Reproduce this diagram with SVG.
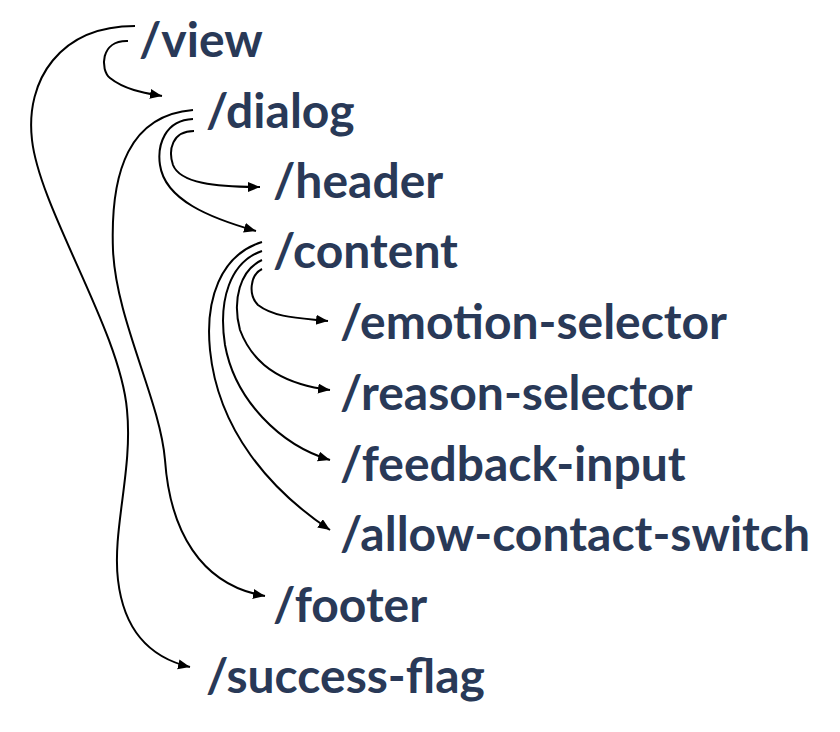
<svg xmlns="http://www.w3.org/2000/svg" width="840" height="732" viewBox="0 0 840 732">
<defs>
<marker id="arr" markerUnits="userSpaceOnUse" markerWidth="14" markerHeight="12" refX="12" refY="5" orient="auto">
<path d="M0,0 L12,5 L0,10 Z" fill="#000"/>
</marker>
<style>
.lbl{font-family:Lato,"Noto Sans","Liberation Sans",sans-serif;font-weight:700;font-size:48px;fill:#293957}
.edge{fill:none;stroke:#000;stroke-width:2;marker-end:url(#arr)}
</style>
</defs>
<rect width="840" height="732" fill="#fff"/>
<g id="connectors">
<path class="edge" d="M135,26 C60,26 25,80 32,140 C40,210 120,330 127,410 C133,470 112,530 118,580 C125,640 160,660 190,667"/>
<path class="edge" d="M128,41 C100,40 100,70 110,78 C125,90 145,93 162,96"/>
<path class="edge" d="M193,110 C130,115 110,170 113,250 C116,320 160,400 165,460 C170,530 200,585 265,596"/>
<path class="edge" d="M193,119 C165,120 157,145 160,165 C165,200 210,218 256,231"/>
<path class="edge" d="M194,131 C172,131 168,150 173,165 C180,183 215,187 260,187"/>
<path class="edge" d="M262,269 C250,275 248,295 258,305 C275,318 300,318 328,321"/>
<path class="edge" d="M262,260 C240,270 232,300 240,330 C255,370 290,385 330,390"/>
<path class="edge" d="M262,251 C230,262 218,300 225,345 C235,400 280,445 330,460"/>
<path class="edge" d="M262,242 C220,255 205,300 210,350 C218,430 270,490 330,530"/>
</g>
<g id="n-view"><text class="lbl" x="139" y="57">/view</text></g>
<g id="n-dialog"><text class="lbl" x="206" y="128">/dialog</text></g>
<g id="n-header"><text class="lbl" x="273" y="198">/header</text></g>
<g id="n-content"><text class="lbl" x="273" y="268">/content</text></g>
<g id="n-emotion-selector"><text class="lbl" x="340" y="339">/emotion-selector</text></g>
<g id="n-reason-selector"><text class="lbl" x="340" y="410">/reason-selector</text></g>
<g id="n-feedback-input"><text class="lbl" x="340" y="481">/feedback-input</text></g>
<g id="n-allow-contact-switch"><text class="lbl" x="340" y="551">/allow-contact-switch</text></g>
<g id="n-footer"><text class="lbl" x="273" y="622">/footer</text></g>
<g id="n-success-flag"><text class="lbl" x="206" y="693">/success-flag</text></g>
</svg>
